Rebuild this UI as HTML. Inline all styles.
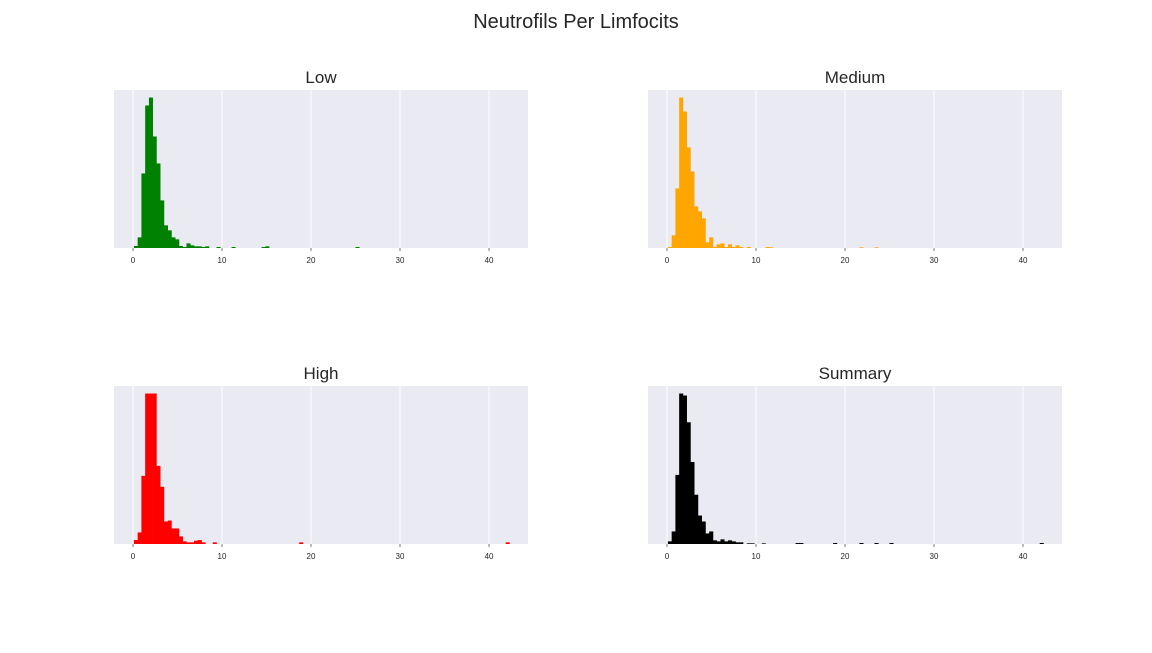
<!DOCTYPE html>
<html><head><meta charset="utf-8">
<style>
body{margin:0;background:#fff;width:1152px;height:648px;overflow:hidden;font-family:"Liberation Sans",sans-serif;}
</style></head>
<body>
<svg id="fig" width="1152" height="648" xmlns="http://www.w3.org/2000/svg">
<text x="576" y="28" text-anchor="middle" font-size="20" fill="#262626" font-family="Liberation Sans, sans-serif">Neutrofils Per Limfocits</text>
</svg>
<script>
const binStart = 0.1;
const binWidth = 0.422;
const xTicks = [0, 10, 20, 30, 40];
const lowCounts = [6,32,224,428,452,335,254,143,68,53,32,26,6,3,14,8,5,5,3,5,0,0,3,0,0,0,3];
const lowExtra = {34:3,35:5,59:3};
const medCounts = [3,38,179,452,410,302,230,125,110,89,17,32,3,11,14,3,11,3,8,3,0,3,0,0,0,0,3];
const medExtra = {27:2,51:2,55:2};
const highCounts = [12,35,206,455,455,455,236,173,68,71,47,47,23,8,5,5,10,12,5,0,0,5];
const highExtra = {44:5,99:5};
const sumCounts = [8,38,209,455,449,368,248,149,86,68,32,38,11,8,14,8,11,8,5,5,0,2,2,0,0,2];
const sumExtra = {34:3,35:3,44:3,51:3,55:3,59:3,99:3};
const panels = [
 {name:'low',title:'Low',color:'#008000',counts:lowCounts,extra:lowExtra,x:114,y:90},
 {name:'medium',title:'Medium',color:'#FFA500',counts:medCounts,extra:medExtra,x:648,y:90},
 {name:'high',title:'High',color:'#FF0000',counts:highCounts,extra:highExtra,x:114,y:386},
 {name:'summary',title:'Summary',color:'#000000',counts:sumCounts,extra:sumExtra,x:648,y:386}
];
const NS='http://www.w3.org/2000/svg';
const svg=document.getElementById('fig');
function mk(tag,attrs,parent){const e=document.createElementNS(NS,tag);for(const k in attrs)e.setAttribute(k,attrs[k]);(parent||svg).appendChild(e);return e;}
const W=414,H=158,xMin=-2.135,xMax=44.38;
panels.forEach(p=>{
  const g=mk('g',{});
  
  
  const sx=v=>p.x+(v-xMin)/(xMax-xMin)*W;
  const all=p.counts.slice();
  for(const k in p.extra){all[+k]=p.extra[k];}
  const maxC=Math.max(...all.filter(v=>v!==undefined));
  const sy=c=>p.y+H-c/(maxC*1.05)*H;
  const bg=mk('rect',{x:p.x,y:p.y,width:W,height:H,fill:'#EAEAF2'},g);
  
  
  xTicks.forEach(t=>{
    const gl=mk('line',{x1:sx(t),x2:sx(t),y1:p.y,y2:p.y+H,stroke:'#fff','stroke-width':1},g);
    
    
    const tk=mk('line',{x1:sx(t),x2:sx(t),y1:p.y+H,y2:p.y+H+3,stroke:'#555','stroke-width':0.8},g);
    
    
    const tl=mk('text',{x:sx(t),y:p.y+H+15,'text-anchor':'middle','font-size':8,fill:'#262626'},g);
    tl.textContent=t;
    
    
  });
  all.forEach((c,i)=>{
    if(!c)return;
    const x0=sx(binStart+i*binWidth),x1=sx(binStart+(i+1)*binWidth);
    const b=mk('rect',{x:x0,y:sy(c),width:x1-x0+0.3,height:p.y+H-sy(c),fill:p.color},g);
    
    
  });
  const t=mk('text',{x:p.x+W/2,y:p.y-7,'text-anchor':'middle','font-size':17,fill:'#262626'},g);
  t.textContent=p.title;
  
  
});
</script>
</body></html>
